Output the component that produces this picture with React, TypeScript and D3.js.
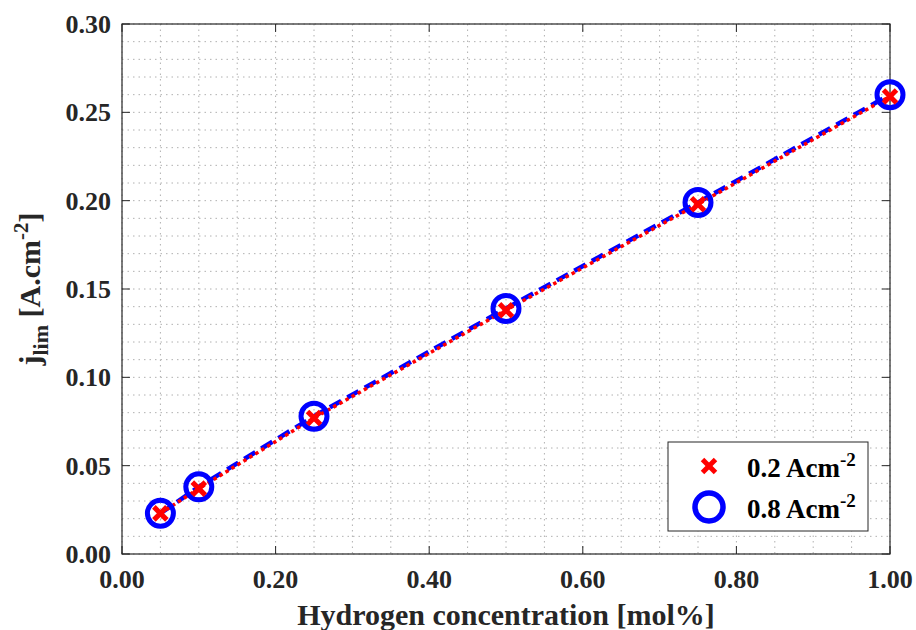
import React from "react";
import { scaleLinear, range, line } from "d3";

// Hydrogen concentration [mol%]
const concentration = [0.05, 0.1, 0.25, 0.5, 0.75, 1.0];
// limiting current density for each load
const jlimLow = [0.023, 0.037, 0.077, 0.138, 0.198, 0.259];
const jlimHigh = [0.023, 0.038, 0.078, 0.139, 0.199, 0.26];
const xTicks = [0, 0.2, 0.4, 0.6, 0.8, 1.0];
const yTicks = [0, 0.05, 0.1, 0.15, 0.2, 0.25, 0.3];

const W = 916;
const H = 630;
const margin = { top: 24, right: 26, bottom: 76, left: 122 };
const txt = { fontFamily: "Liberation Serif", fontWeight: 700 };

function XMark({ x, y, s, w }) {
  return (
    <g stroke="#ff0000" strokeWidth={w} strokeLinecap="butt">
      <line x1={x - s} y1={y - s} x2={x + s} y2={y + s} />
      <line x1={x - s} y1={y + s} x2={x + s} y2={y - s} />
    </g>
  );
}

export default function App() {
  const width = W - margin.left - margin.right;
  const height = H - margin.top - margin.bottom;
  const x = scaleLinear().domain([0, 1]).range([0, width]);
  const y = scaleLinear().domain([0, 0.3]).range([height, 0]);

  const pts = (ys) => concentration.map((c, i) => [x(c), y(ys[i])]);
  const path = line();

  const xGrid = range(0, 1.0001, 0.05);
  const yGrid = range(0, 0.3001, 0.01);

  return (
    <svg width={W} height={H} style={{ position: "absolute", left: 0, top: 0, background: "#fff" }}>
      <g transform={`translate(${margin.left},${margin.top})`}>
        {xGrid.map((v) => (
          <line key={`gx${v}`} x1={x(v)} x2={x(v)} y1={0} y2={height}
            stroke="#b0b0b0" strokeWidth={1} strokeDasharray="1.5 4" />
        ))}
        {yGrid.map((v) => (
          <line key={`gy${v}`} x1={0} x2={width} y1={y(v)} y2={y(v)}
            stroke="#b0b0b0" strokeWidth={1} strokeDasharray="1.5 4" />
        ))}

        {/* ticks inside */}
        {xTicks.map((v) => (
          <g key={`xt${v}`}>
            <line x1={x(v)} x2={x(v)} y1={height} y2={height - 8} stroke="#262626" strokeWidth={1} />
            <line x1={x(v)} x2={x(v)} y1={0} y2={8} stroke="#262626" strokeWidth={1} />
            <text x={x(v)} y={height + 34} textAnchor="middle" style={txt}
              fontSize={26} fill="#262626">{v.toFixed(2)}</text>
          </g>
        ))}
        {yTicks.map((v) => (
          <g key={`yt${v}`}>
            <line x1={0} x2={8} y1={y(v)} y2={y(v)} stroke="#262626" strokeWidth={1} />
            <line x1={width} x2={width - 8} y1={y(v)} y2={y(v)} stroke="#262626" strokeWidth={1} />
            <text x={-11} y={y(v)} dy="0.35em" textAnchor="end" style={txt}
              fontSize={26} fill="#262626">{v.toFixed(2)}</text>
          </g>
        ))}
        <rect x={0} y={0} width={width} height={height} fill="none" stroke="#262626" strokeWidth={1.2} />

        {/* lines */}
        <path d={path(pts(jlimHigh))} fill="none" stroke="#0000ff" strokeWidth={4.5} strokeDasharray="13 7" />
        <path d={path(pts(jlimLow))} fill="none" stroke="#ff0000" strokeWidth={3.5} strokeDasharray="3.5 3.5" />

        {/* markers */}
        {pts(jlimHigh).map(([px, py], i) => (
          <circle key={`c${i}`} cx={px} cy={py} r={13} fill="none" stroke="#0000ff" strokeWidth={5} />
        ))}
        {pts(jlimLow).map(([px, py], i) => (
          <XMark key={`m${i}`} x={px} y={py} s={6.5} w={5} />
        ))}

        {/* legend */}
        <g transform={`translate(${668 - margin.left},${442 - margin.top})`}>
          <rect x={0} y={0} width={200} height={89} fill="#fff" stroke="#262626" strokeWidth={1} />
          <XMark x={41} y={24} s={6.5} w={5} />
          <circle cx={41} cy={65} r={14} fill="none" stroke="#0000ff" strokeWidth={5.5} />
          <text x={79} y={35} style={txt} fontSize={27} fill="#000">
            0.2 Acm<tspan dy={-11} fontSize={19}>-2</tspan>
          </text>
          <text x={79} y={76} style={txt} fontSize={27} fill="#000">
            0.8 Acm<tspan dy={-11} fontSize={19}>-2</tspan>
          </text>
        </g>
      </g>

      <text x={margin.left + width / 2} y={625} textAnchor="middle" style={txt}
        fontSize={30} fill="#262626">Hydrogen concentration [mol%]</text>
      <text transform={`translate(40,${margin.top + height / 2}) rotate(-90)`} textAnchor="middle"
        style={txt} fontSize={30} fill="#262626">
        j<tspan dy={8} fontSize={22}>lim</tspan>
        <tspan dy={-8}> [A.cm</tspan><tspan dy={-12} fontSize={21}>-2</tspan><tspan dy={12}>]</tspan>
      </text>
    </svg>
  );
}
